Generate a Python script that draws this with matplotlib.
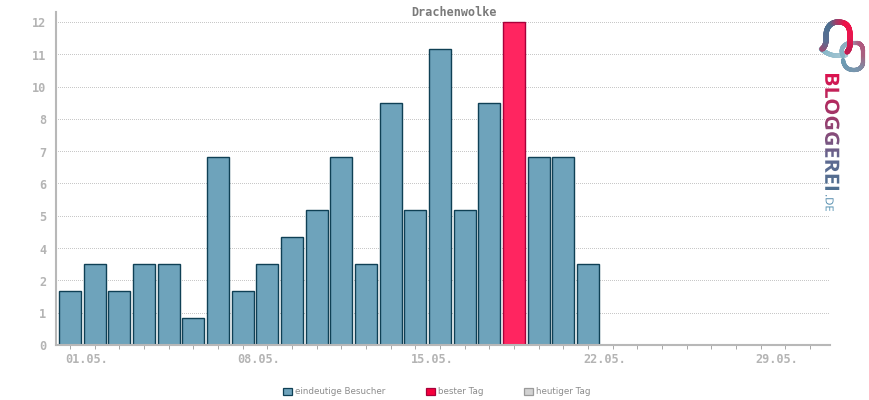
import numpy as np
import matplotlib
matplotlib.use("Agg")
import matplotlib.pyplot as plt
from matplotlib.patches import Patch, PathPatch
from matplotlib.collections import LineCollection
from matplotlib.colors import LinearSegmentedColormap
from matplotlib.font_manager import FontProperties
from matplotlib.textpath import TextPath
from matplotlib.transforms import ScaledTranslation
from matplotlib.path import Path

title = "Drachenwolke"
visitors = [2, 3, 2, 3, 3, 1, 7, 2, 3, 4, 5, 7, 3, 9, 5, 11, 5, 9, 12, 7, 7, 3]
n_days = 31
date_labels = {0: "01.05.", 7: "08.05.", 14: "15.05.", 21: "22.05.", 28: "29.05."}
y_ticks = [0, 1.2, 2.4, 3.6, 4.8, 6, 7.2, 8.4, 9.6, 10.8, 12]
y_labels = ["0", "1", "2", "4", "5", "6", "7", "8", "10", "11", "12"]
legend_names = ["eindeutige Besucher", "bester Tag", "heutiger Tag"]

BLUE, BLUE_E = "#6ea3bb", "#0f4055"
RED, RED_E = "#ff2560", "#a8003a"
AXC, TXT = "#b8b8b8", "#b4b4b4"
MONO = "DejaVu Sans Mono"

fig = plt.figure(figsize=(8.7, 4), dpi=100)
W, H = 870, 400
L, R, T, B = 56, 830, 12, 345
ax = fig.add_axes([L / W, 1 - B / H, (R - L) / W, (B - T) / H])
step = 24.67
ax.set_xlim((L - 70) / step, (R - 70) / step)
ax.set_ylim(0, (B - T) / 26.92)

x = np.arange(len(visitors))
faces = [RED if v == max(visitors) else BLUE for v in visitors]
edges = [RED_E if v == max(visitors) else BLUE_E for v in visitors]
ax.bar(x, visitors, width=0.89, color=faces, edgecolor=edges, linewidth=1.0, zorder=3)

ax.set_yticks(y_ticks, y_labels)
ax.set_xticks(np.arange(n_days), [date_labels.get(i, "") for i in range(n_days)])
ax.grid(axis="y", color="#c8c8c8", linewidth=0.72, linestyle=(0.5, (1, 1)), zorder=1)
ax.tick_params(axis="y", length=0, pad=7, labelsize=8.6, labelcolor=TXT)
ax.tick_params(axis="x", length=3, width=0.72, color="#aaaaaa", pad=3, labelsize=8.6, labelcolor=TXT)
shift = ScaledTranslation(-5 / 100, 0, fig.dpi_scale_trans)
for lab in ax.get_xticklabels():
    lab.set_family(MONO)
    lab.set_weight("bold")
    lab.set_ha("left")
    lab.set_transform(lab.get_transform() + shift)
for lab in ax.get_yticklabels():
    lab.set_family(MONO)
    lab.set_weight("bold")
    lab.set_va("center")
    lab.set_transform(lab.get_transform() + ScaledTranslation(0, -2 / 100, fig.dpi_scale_trans))

for s in ("top", "right"):
    ax.spines[s].set_visible(False)
for s in ("left", "bottom"):
    ax.spines[s].set_color(AXC)
    ax.spines[s].set_linewidth(1.5)
    ax.spines[s].set_zorder(4)

fig.text(454 / W, 1 - 12 / H, title, family=MONO, weight="bold", size=8.5,
         color="#7a7a7a", ha="center", va="center")

handles = [Patch(facecolor=BLUE, edgecolor=BLUE_E, linewidth=0.9),
           Patch(facecolor="#f5003c", edgecolor="#a8003a", linewidth=0.9),
           Patch(facecolor="#d2d2d2", edgecolor="#9a9a9a", linewidth=0.9)]
fig.legend(handles, legend_names, loc="center", bbox_to_anchor=(437 / W, 1 - 392 / H),
           ncol=3, frameon=False, fontsize=6.3, labelcolor="#8c8c8c",
           handlelength=1.0, handleheight=1.0, handletextpad=0.4,
           columnspacing=4.6, borderpad=0, borderaxespad=0)

# logo, drawn in pixel coordinates
ov = fig.add_axes([0, 0, 1, 1], zorder=6)
ov.set_xlim(0, W)
ov.set_ylim(H, 0)
ov.axis("off")
ov.patch.set_alpha(0)


def stroke(ctrl, cols, lw=3.0):
    c = np.array(ctrl, float)
    t = np.linspace(0, 1, 60)
    out = []
    for i in range(0, len(c) - 1, 3):
        p0, p1, p2, p3 = c[i:i + 4]
        for u in t:
            out.append((1-u)**3*p0 + 3*(1-u)**2*u*p1 + 3*(1-u)*u**2*p2 + u**3*p3)
    out = np.array(out)
    segs = np.stack([out[:-1], out[1:]], axis=1)
    cmap = LinearSegmentedColormap.from_list("g", cols)
    lc = LineCollection(segs, cmap=cmap, linewidth=lw, capstyle="round")
    lc.set_array(np.linspace(0, 1, len(segs)))
    ov.add_collection(lc)


stroke([(821, 49), (825, 52), (828, 54), (832, 55),
        (838, 56), (842, 56), (846, 55)],
       ["#7fb3c6", "#a9c8d4"], lw=3.2)
stroke([(843, 56), (839, 48), (845, 43), (851, 43),
        (854, 43), (855, 43), (857, 43),
        (861, 43), (863, 47), (863, 51),
        (863, 55), (863, 58), (863, 62),
        (863, 67), (859, 70), (854, 70),
        (848, 70), (844, 67), (843, 60)],
       ["#84b3c6", "#93a8bb", "#b0587f", "#a8607f", "#7b94ac", "#6d9bb3"], lw=3.0)
stroke([(822, 49), (826, 46), (826, 42), (826, 36),
        (826, 26), (832, 22), (838, 22),
        (848, 22), (850, 28), (850, 36),
        (850, 42), (851, 48), (847, 52)],
       ["#a04a72", "#5c6e92", "#4b6f90", "#f01048", "#e8184f", "#c01a50"], lw=3.8)


def gradient_text(s, weight, x0, y0, length, height, cols):
    fp = FontProperties(family="Open Sans", weight=weight)
    tp = TextPath((0, 0), s, size=20, prop=fp)
    bb = tp.get_extents()
    sx = length / bb.width
    sy = height / bb.height
    v = tp.vertices
    nv = np.column_stack([x0 + (v[:, 1] - bb.y0) * sy, y0 + (v[:, 0] - bb.x0) * sx])
    patch = PathPatch(Path(nv, tp.codes), facecolor="none", edgecolor="none", transform=ov.transData)
    ov.add_patch(patch)
    cmap = LinearSegmentedColormap.from_list("t", cols)
    im = ov.imshow(np.linspace(0, 1, 100).reshape(-1, 1), cmap=cmap, aspect="auto",
                   extent=(x0 - 1, x0 + height + 1, y0 + length, y0), zorder=7)
    im.set_clip_path(patch)
    ov.set_xlim(0, W)
    ov.set_ylim(H, 0)


gradient_text("BLOGGEREI", "bold", 825, 74, 116, 14.5,
              ["#dc1450", "#b02c60", "#8a4a78", "#5e6a92", "#4f7090"])
gradient_text(".DE", "normal", 825.5, 195, 16, 8,
              ["#4f86a8", "#4f8fb0"])

fig.savefig("out.png", dpi=100)
